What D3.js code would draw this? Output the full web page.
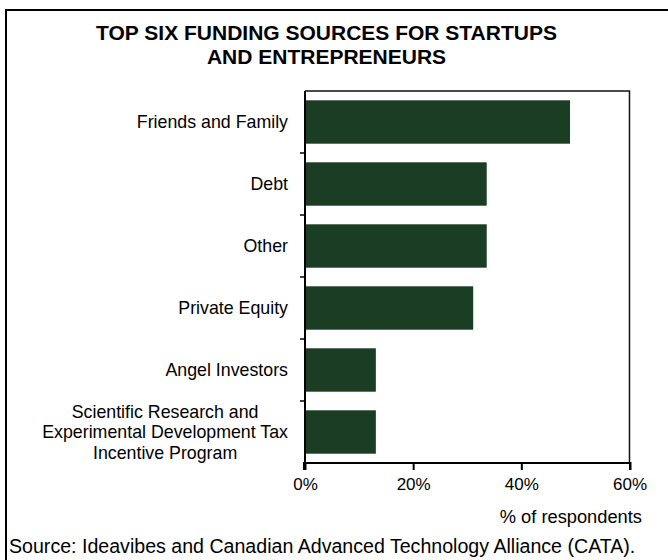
<!DOCTYPE html>
<html>
<head>
<meta charset="utf-8">
<script src="https://cdn.jsdelivr.net/npm/d3@7"></script>
<style>
  html, body { margin: 0; padding: 0; background: #fff; }
  svg { display: block; font-family: Arial, "Liberation Sans", sans-serif; }
</style>
</head>
<body>
<svg id="chart" width="668" height="560"></svg>
<script>
// Funding sources (label lines) and share of respondents (%)
const categories = [
  ["Friends and Family"],
  ["Debt"],
  ["Other"],
  ["Private Equity"],
  ["Angel Investors"],
  ["Scientific Research and", "Experimental Development Tax", "Incentive Program"]
];
const values = [49, 33.6, 33.6, 31.1, 13.1, 13.1];
const xTicks = [0, 20, 40, 60];

const titleLines = ["TOP SIX FUNDING SOURCES FOR STARTUPS", "AND ENTREPRENEURS"];
const axisTitle = "% of respondents";
const sourceNote = "Source: Ideavibes and Canadian Advanced Technology Alliance (CATA).";

const svg = d3.select("#chart");
const barColor = "#1a3d24";
const labelSize = 17.8;

// outer frame (runs off the right and bottom edges)
svg.append("rect")
  .attr("x", 6).attr("y", 10)
  .attr("width", 720).attr("height", 620)
  .attr("fill", "none").attr("stroke", "#000").attr("stroke-width", 2);

// title
svg.append("g").selectAll("text").data(titleLines).join("text")
  .attr("x", 326.5)
  .attr("y", (d, i) => 40 + i * 23.5)
  .attr("text-anchor", "middle")
  .attr("font-weight", "bold")
  .attr("font-size", 21)
  .attr("fill", "#000")
  .text(d => d);

// plot area
const plot = { left: 305, right: 629.5, top: 91, bottom: 463 };

const x = d3.scaleLinear().domain([0, 60]).range([plot.left, plot.right]);
const y = d3.scaleBand()
  .domain(d3.range(categories.length))
  .range([plot.top, plot.bottom])
  .paddingInner(0.3)
  .paddingOuter(0.15);

// top and right frame of the plot area
svg.append("path")
  .attr("d", `M${plot.left},${plot.top}H${plot.right}V${plot.bottom}`)
  .attr("fill", "none").attr("stroke", "#111").attr("stroke-width", 1.5);

// bars
svg.append("g").selectAll("rect").data(values).join("rect")
  .attr("x", x(0))
  .attr("y", (d, i) => y(i))
  .attr("width", d => x(d) - x(0))
  .attr("height", y.bandwidth())
  .attr("fill", barColor);

// category axis: ticks sit on the band boundaries
const boundaries = d3.range(1, categories.length).map(i => plot.top + (plot.bottom - plot.top) * i / categories.length);
svg.append("g").selectAll("line").data(boundaries).join("line")
  .attr("x1", plot.left - 5).attr("x2", plot.left)
  .attr("y1", d => d).attr("y2", d => d)
  .attr("stroke", "#000").attr("stroke-width", 1.5);

svg.append("line")
  .attr("x1", plot.left).attr("x2", plot.left)
  .attr("y1", plot.top).attr("y2", plot.bottom + 1)
  .attr("stroke", "#000").attr("stroke-width", 2);

// category labels: block right-aligned, lines centred within the block
const labelGroup = svg.append("g");
categories.forEach((lines, i) => {
  const cy = plot.top + (plot.bottom - plot.top) * (i + 0.5) / categories.length;
  const g = labelGroup.append("g");
  const texts = g.selectAll("text").data(lines).join("text")
    .attr("font-size", labelSize)
    .attr("fill", "#000")
    .attr("text-anchor", "middle")
    .attr("y", (d, j) => cy + (j - (lines.length - 1) / 2) * 20.5)
    .attr("dy", "0.35em")
    .text(d => d);
  let maxW = 0;
  texts.each(function () { maxW = Math.max(maxW, this.getComputedTextLength()); });
  texts.attr("x", plot.left - 17 - maxW / 2);
});

// value axis
const xAxis = d3.axisBottom(x)
  .tickValues(xTicks)
  .tickFormat(d => d + "%")
  .tickSize(7)
  .tickPadding(8);

const gx = svg.append("g")
  .attr("transform", `translate(0,${plot.bottom})`)
  .call(xAxis);
gx.select(".domain").attr("stroke", "#000").attr("stroke-width", 2)
  .attr("d", `M${plot.left - 1},7V0H${plot.right + 1}V7`);
gx.selectAll(".tick line").attr("stroke", "#000").attr("stroke-width", 2);
gx.selectAll(".tick text")
  .attr("font-size", 17)
  .attr("font-family", "Arial, 'Liberation Sans', sans-serif")
  .attr("fill", "#000");

// axis title
svg.append("text")
  .attr("x", 642).attr("y", 523)
  .attr("text-anchor", "end")
  .attr("font-size", 18.3)
  .attr("fill", "#000")
  .text(axisTitle);

// source note
svg.append("text")
  .attr("x", 9).attr("y", 553)
  .attr("font-size", 19.6)
  .attr("fill", "#000")
  .text(sourceNote);
</script>
</body>
</html>
